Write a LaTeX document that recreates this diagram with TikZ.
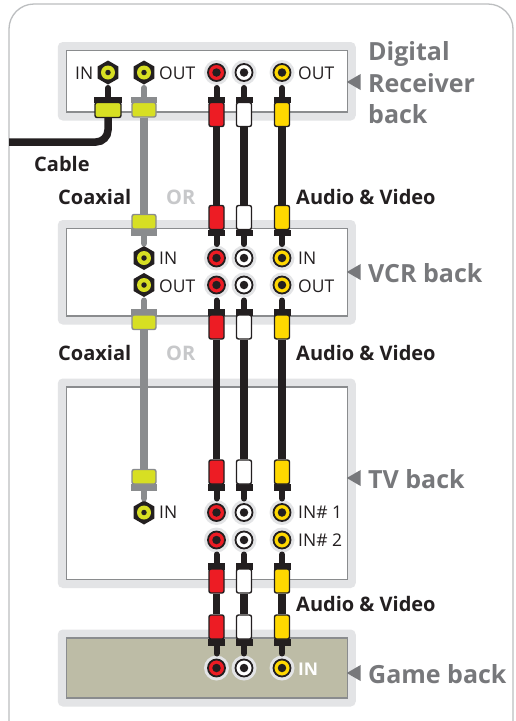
\documentclass[tikz,border=0pt]{standalone}
\usepackage{fontspec}
\setmainfont{Open Sans}
\usepackage{xcolor}
\usetikzlibrary{shapes.geometric,positioning,calc}

\definecolor{inkblack}{HTML}{231F20}
\definecolor{labelgray}{HTML}{77787B}
\definecolor{orgray}{HTML}{C7C8CA}
\definecolor{halogray}{HTML}{E3E4E6}
\definecolor{boxgray}{HTML}{8A8C8E}
\definecolor{panelgray}{HTML}{BCBEC0}
\definecolor{gametan}{HTML}{BDBCA6}
\definecolor{coaxlime}{HTML}{D7DF23}
\definecolor{plugred}{HTML}{ED1C24}
\definecolor{plugyellow}{HTML}{FFD800}

% one plug: name, x, y of collar/body joint, direction of pin, fill, edge, body width, body height
\newcommand{\plugat}[8]{%
    \node[plugcollar, draw=#6, fill=#6, minimum width={#7+1}] (#1c) at (#2,{#3+(#4)*3}) {};
    \coordinate (#1p) at (#2,{#3+(#4)*14.5});
    \draw[plugpin, draw=#6] (#1c) -- (#1p);
    \node[plugbody, draw=#6, fill=#5, minimum width=#7, minimum height=#8] (#1) at (#2,{#3-(#4)*#8/2}) {};
}
% one round jack: name, x, y, ring colour
\newcommand{\jackat}[4]{%
    \node[jackhalo] (#1h) at (#2,#3) {};
    \node[jackring, fill=#4] (#1) at (#2,#3) {};
    \node[jackcore] (#1k) at (#2,#3) {};
}
% one hexagon jack: name, x, y
\newcommand{\hexat}[3]{%
    \node[hexjack] (#1) at (#2,#3) {};
    \node[hexring] (#1r) at (#2,#3) {};
    \node[hexcore] (#1k) at (#2,#3) {};
}

\begin{document}
\begin{tikzpicture}[
    x=1pt, y=-1pt,
    halobox/.style={rectangle, fill=halogray, rounded corners=5pt, inner sep=0},
    devbox/.style={rectangle, draw=boxgray, line width=1.2pt, fill=white, inner sep=0},
    plugbody/.style={rectangle, rounded corners=2pt, line width=1.4pt, inner sep=0},
    plugcollar/.style={rectangle, minimum height=5.5pt, line width=0.5pt, inner sep=0},
    plugpin/.style={line width=6pt, line cap=round},
    avwire/.style={draw=inkblack, line width=7.5pt},
    coaxwire/.style={draw=boxgray, line width=7.5pt},
    jackhalo/.style={circle, fill=halogray, minimum size=25pt, inner sep=0},
    jackring/.style={circle, draw=inkblack, line width=1.8pt, minimum size=17pt, inner sep=0},
    jackcore/.style={circle, fill=inkblack, minimum size=8.5pt, inner sep=0},
    hexjack/.style={regular polygon, regular polygon sides=6, shape border rotate=30, fill=inkblack, minimum size=24pt, inner sep=0},
    hexring/.style={circle, fill=coaxlime, minimum size=14pt, inner sep=0},
    hexcore/.style={circle, fill=inkblack, minimum size=5.5pt, inner sep=0},
    pointer/.style={regular polygon, regular polygon sides=3, shape border rotate=90, fill=labelgray, minimum size=18.5pt, inner sep=0},
    bigtext/.style={anchor=base west, text=labelgray, font=\fontsize{25}{25}\selectfont\bfseries, inner sep=0},
    midtext/.style={anchor=base west, text=inkblack, font=\fontsize{20}{20}\selectfont\bfseries, inner sep=0},
    ortext/.style={anchor=base west, text=orgray, font=\fontsize{20}{20}\selectfont\bfseries, inner sep=0},
    jacktext/.style={anchor=base west, text=inkblack, font=\fontsize{17.5}{17.5}\selectfont, inner sep=0}
]
    \useasboundingbox (0,0) rectangle (515,721);
    \fill[white] (0,0) rectangle (515,721);

    % outer panel, open at the bottom
    \draw[panelgray, line width=1.3pt, rounded corners=25pt] (9,721) -- (9,4) -- (513,4) -- (513,721);

    % the four device backs
    \foreach \nm/\cy/\hgt/\col in {recv/81.25/61.5/white, vcr/272.25/87.5/white, tv/483.25/192.5/white, game/668/60/gametan} {
        \node[halobox, minimum width=298, minimum height={\hgt+17}] (\nm halo) at (206.75,\cy) {};
        \node[devbox, fill=\col, minimum width=281, minimum height=\hgt] (\nm box) at (206.75,\cy) {};
    }

    % coaxial jacks
    \hexat{recvin}{108}{72.5}
    \hexat{recvout}{144}{72.5}
    \hexat{vcrin}{144}{258}
    \hexat{vcrout}{144}{285}
    \hexat{tvin}{144}{512.5}

    % audio and video jacks
    \foreach \row/\y in {recv/72.5, vcra/258, vcrb/285, tva/512.5, tvb/540, game/668} {
        \foreach \nm/\x/\col in {r/216.5/plugred, w/244/white, y/282/plugyellow} {
            \jackat{\nm\row}{\x}{\y}{\col}
        }
    }

    % cable plug
    \plugat{cableplug}{108}{102.5}{-1}{coaxlime}{inkblack}{26}{15}
    \coordinate (cableend) at (9,142);
    \draw[avwire, rounded corners=12pt] (cableend) -| (cableplug);

    % coaxial plugs
    \plugat{coaxa}{144}{102.5}{-1}{coaxlime}{boxgray}{24}{14.5}
    \plugat{coaxb}{144}{229}{1}{coaxlime}{boxgray}{24}{14.5}
    \plugat{coaxc}{144}{315}{-1}{coaxlime}{boxgray}{24}{14.5}
    \plugat{coaxd}{144}{484}{1}{coaxlime}{boxgray}{24}{14.5}
    \draw[coaxwire] (coaxa) -- (coaxb);
    \draw[coaxwire] (coaxc) -- (coaxd);

    % audio and video plugs
    \foreach \nm/\x/\col in {r/216.5/plugred, w/244/white, y/282/plugyellow} {
        \plugat{\nm a}{\x}{102.5}{-1}{\col}{inkblack}{15}{24}
        \plugat{\nm b}{\x}{229.5}{1}{\col}{inkblack}{15}{24}
        \plugat{\nm c}{\x}{315}{-1}{\col}{inkblack}{15}{24}
        \plugat{\nm d}{\x}{484}{1}{\col}{inkblack}{15}{24}
        \plugat{\nm e}{\x}{569}{-1}{\col}{inkblack}{15}{24}
        \plugat{\nm f}{\x}{639}{1}{\col}{inkblack}{15}{24}
        \draw[avwire] (\nm a) -- (\nm b);
        \draw[avwire] (\nm c) -- (\nm d);
        \draw[avwire] (\nm e) -- (\nm f);
    }

    % jack labels
    \node[jacktext] (lrecvin) at (75,79) {IN};
    \node[jacktext] (lrecvout) at (159,79) {OUT};
    \node[jacktext] (lrecvav) at (298,79) {OUT};
    \node[jacktext] (lvcrin) at (159,264) {IN};
    \node[jacktext] (lvcrout) at (159,292) {OUT};
    \node[jacktext] (lvcrain) at (298,264) {IN};
    \node[jacktext] (lvcraout) at (298,292) {OUT};
    \node[jacktext] (ltvin) at (159,518) {IN};
    \node[jacktext] (ltvone) at (298,518) {IN\# 1};
    \node[jacktext] (ltvtwo) at (298,546) {IN\# 2};
    \node[jacktext, text=white, font=\fontsize{17.5}{17.5}\selectfont\bfseries] (lgamein) at (298,675) {IN};

    % connection labels
    \node[midtext] (lcable) at (34,171) {Cable};
    \node[midtext] (lcoaxa) at (58,204) {Coaxial};
    \node[ortext] (lora) at (166,204) {OR};
    \node[midtext] (lava) at (296,204) {Audio \& Video};
    \node[midtext] (lcoaxb) at (58,360) {Coaxial};
    \node[ortext] (lorb) at (166,360) {OR};
    \node[midtext] (lavb) at (296,360) {Audio \& Video};
    \node[midtext] (lavc) at (296,611.5) {Audio \& Video};

    % device names with their pointers
    \node[pointer] (precv) at (356,82) {};
    \node[pointer] (pvcr) at (356,272) {};
    \node[pointer] (ptv) at (356,478) {};
    \node[pointer] (pgame) at (356,673) {};
    \node[bigtext] (ldigital) at (368,60) {Digital};
    \node[bigtext] (lreceiver) at (368,92) {Receiver};
    \node[bigtext] (lback) at (368,123.5) {back};
    \node[bigtext] (lvcr) at (368,282) {VCR back};
    \node[bigtext] (ltv) at (368,488) {TV back};
    \node[bigtext] (lgame) at (368,683) {Game back};
\end{tikzpicture}
\end{document}
